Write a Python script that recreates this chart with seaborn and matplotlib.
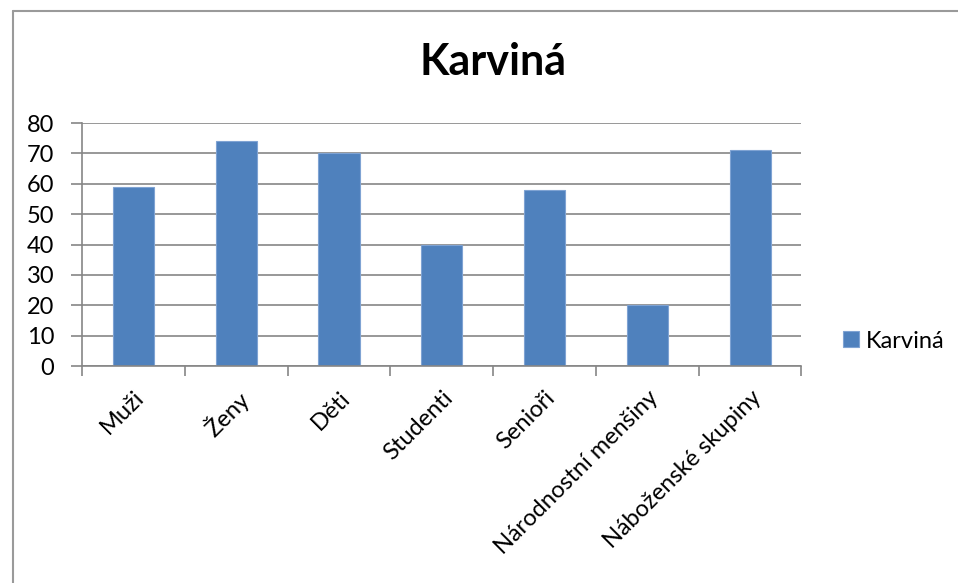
import seaborn as sns
import matplotlib.pyplot as plt
import pandas as pd
from matplotlib.lines import Line2D

# Data
categories = ['Muži', 'Ženy', 'Děti', 'Studenti', 'Senioři',
              'Národnostní menšiny', 'Náboženské skupiny']
values = [59, 74, 70, 40, 58, 20, 71]
series_name = 'Karviná'

data = pd.DataFrame({'Skupina': categories, 'Hodnota': values})

sns.set_style('white')
plt.rcParams['font.family'] = ['Lato', 'DejaVu Sans']
plt.rcParams['text.color'] = 'black'
plt.rcParams['xtick.color'] = 'black'
plt.rcParams['ytick.color'] = 'black'

fig = plt.figure(figsize=(9.58, 5.83), dpi=100)
ax = fig.add_axes([0.0856, 0.372, 0.751, 0.417])

sns.barplot(data=data, x='Skupina', y='Hodnota', color='#4F81BD',
            width=0.4, saturation=1, edgecolor='#7fa3d3', linewidth=0.8,
            label=series_name, ax=ax)

grid_col = '#868686'
ax.set_ylim(0, 80)
ax.set_yticks(range(0, 81, 10))
ax.set_xlim(-0.5, len(categories) - 0.5)
ax.yaxis.grid(True, color=grid_col, linewidth=1.2)
ax.set_axisbelow(True)
for s in ['top', 'right']:
    ax.spines[s].set_visible(False)
for s in ['left', 'bottom']:
    ax.spines[s].set_color(grid_col)
    ax.spines[s].set_linewidth(1.2)

# x ticks at category boundaries, labels at centers
ax.set_xticks([i - 0.5 for i in range(len(categories) + 1)], minor=False)
ax.set_xticklabels([])
ax.set_xticks(range(len(categories)), minor=True)
ax.set_xticklabels(categories, minor=True, rotation=45, ha='right',
                   rotation_mode='anchor', fontsize=17)
ax.tick_params(axis='x', which='major', length=7, color=grid_col, width=1.2,
               direction='out', bottom=True)
ax.tick_params(axis='x', which='minor', length=0, pad=15, bottom=True)
ax.tick_params(axis='y', length=8, color=grid_col, width=1.2, direction='out',
               left=True, labelsize=17, pad=12)
ax.set_xlabel('')
ax.set_ylabel('')

fig.text(493 / 958, 1 - 62 / 583, series_name, fontsize=31, fontweight='bold',
         ha='center', va='center')

ax.legend(loc='center left', bbox_to_anchor=(1.058, 0.103), frameon=False,
          fontsize=17, handlelength=0.68, handleheight=0.68, handletextpad=0.3,
          borderaxespad=0, borderpad=0)

# outer chart border (left and top edges visible)
x0 = 13 / 958
y0 = 1 - 11 / 583
fig.add_artist(Line2D([x0, x0], [0, y0], color='#9a9a9a', linewidth=1.5))
fig.add_artist(Line2D([x0, 1], [y0, y0], color='#9a9a9a', linewidth=1.5))

fig.savefig('out.png', dpi=100)
